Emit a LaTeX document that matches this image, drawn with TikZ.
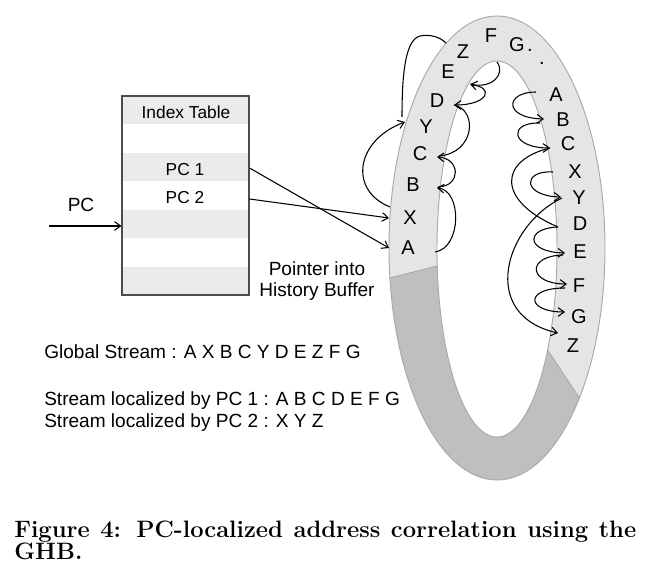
\documentclass[tikz,border=0pt]{standalone}
\usepackage{fontspec}
\newfontfamily\arial{Liberation Sans}
\usetikzlibrary{arrows.meta}
\definecolor{ringlight}{HTML}{E5E5E5}
\definecolor{ringdark}{HTML}{BFBFBF}
\definecolor{ringedge}{HTML}{A9A9A9}
\definecolor{rowgray}{HTML}{EBEBEB}
\begin{document}
\begin{tikzpicture}[x=0.75pt,y=-0.75pt,
  lbl/.style={font=\arial\fontsize{14.3}{16}\selectfont, inner sep=0pt},
  tbl/.style={font=\arial\fontsize{13}{15}\selectfont, inner sep=0pt},
  ltr/.style={font=\arial\fontsize{15}{17}\selectfont, inner sep=0pt, anchor=center},
  ptr/.style={-{Straight Barb[length=4.5pt,width=6.5pt]}, line width=0.8pt},
  link/.style={line width=0.8pt},
  captext/.style={font=\bfseries\fontsize{17.8}{18}\selectfont, inner sep=0pt, anchor=base west}]
\useasboundingbox (0,0) rectangle (650,567);

% ---------- index table ----------
\foreach \i in {0,2,4,6}
  \fill[rowgray] (122,{96+28.43*\i}) rectangle (249,{96+28.43*(\i+1)});
\node[draw=black!70, line width=0.8pt, minimum width=127*0.75pt, minimum height=199*0.75pt, inner sep=0pt] (tab) at (185.5,195.5) {};
\node[tbl, anchor=base] (ttl) at (186,118.3) {Index Table};
\node[tbl, anchor=base] (pc1) at (185,175.7) {PC 1};
\node[tbl, anchor=base] (pc2) at (185,203.3) {PC 2};
\node[lbl, anchor=base] (pclab) at (81,211.7) {PC};
\coordinate (pcin) at (49,226);
\draw[ptr] (pcin) -- (pcin -| tab.west);

% ---------- ring ----------
\fill[ringlight] (497,248) ellipse [x radius=108, y radius=232];
\begin{scope}
  \clip (497,248) ellipse [x radius=108, y radius=232];
  \fill[ringdark] (370,283) -- (450,262.7) -- (531.7,326) -- (595,422) -- (650,600) -- (340,600) -- cycle;
\end{scope}
\fill[white] (497,249) ellipse [x radius=60, y radius=188];
\draw[ringedge, line width=0.7pt] (497,248) ellipse [x radius=108, y radius=232];
\draw[ringedge, line width=0.7pt] (497,249) ellipse [x radius=60, y radius=188];
\draw[ringedge, line width=0.7pt] (389.9,278) -- (437.2,266);
\draw[ringedge, line width=0.7pt] (547.6,350) -- (579.4,398);

% ---------- letters ----------
\node[ltr] (lA) at (408,248) {A};
\node[ltr] (lX) at (410,218) {X};
\node[ltr] (lB) at (413,185) {B};
\node[ltr] (lC) at (420,154) {C};
\node[ltr] (lY) at (426,127) {Y};
\node[ltr] (lD) at (437,101) {D};
\node[ltr] (lE) at (448,72) {E};
\node[ltr] (lZ) at (463,52) {Z};
\node[ltr] (lF) at (491,36) {F};
\node[ltr] (lG) at (517,45) {G};
\node[ltr] (d1) at (530,50) {.};
\node[ltr] (d2) at (542,63) {.};
\node[ltr] (rA) at (556,95) {A};
\node[ltr] (rB) at (563,120) {B};
\node[ltr] (rC) at (568,144) {C};
\node[ltr] (rX) at (575,172) {X};
\node[ltr] (rY) at (579,198) {Y};
\node[ltr] (rD) at (580,224) {D};
\node[ltr] (rE) at (580,252) {E};
\node[ltr] (rF) at (579,286) {F};
\node[ltr] (rG) at (579,317) {G};
\node[ltr] (rZ) at (573,346) {Z};

% ---------- connector end points ----------
\coordinate (aA) at (435,252);
\coordinate (aX) at (389,218);
\coordinate (aAin) at (389,248);
\coordinate (aXo) at (390,207);
\coordinate (aB) at (437,188);
\coordinate (aC) at (437,157);
\coordinate (aY) at (405,122);
\coordinate (aYo) at (402,117);
\coordinate (aD) at (454,105);
\coordinate (aE) at (470,84);
\coordinate (aF) at (497,62);
\coordinate (aZ) at (446,43);
\coordinate (bA) at (536,92);
\coordinate (bB) at (544,119);
\coordinate (bC) at (550,148);
\coordinate (bX) at (553,172);
\coordinate (bY) at (561,197);
\coordinate (bD) at (558,227);
\coordinate (bE) at (565,253);
\coordinate (bF) at (567,284);
\coordinate (bG) at (565,312);
\coordinate (bZ) at (558,333);

% ---------- pointers from table ----------
\draw[ptr] (tab.east |- 0,168) -- (aAin);
\draw[ptr] (tab.east |- 0,199) -- (aX);

% ---------- left/top links ----------
\draw[ptr] (aA) .. controls (462,248) and (462,190) .. (aB);
\draw[ptr] (438,187) .. controls (462,186) and (460,158) .. (aC);
\draw[link] (439,156) .. controls (475,153) and (478,110) .. (aD);
\draw[ptr] (aF) .. controls (506,74) and (492,89) .. (aE);
\draw[ptr] (471,85) .. controls (494,86) and (490,105) .. (aD);
\draw[ptr] (aXo) .. controls (348,190) and (356,140) .. (aY);
\draw[link] (aYo) .. controls (402,75) and (405,40) .. (420,36) .. controls (430,34) and (440,37) .. (aZ);

% ---------- right links ----------
\draw[ptr] (bA) .. controls (505,92) and (503,118) .. (bB);
\draw[ptr] (540,123) .. controls (508,122) and (510,148) .. (bC);
\draw[link] (bC) .. controls (500,160) and (495,200) .. (bD);
\draw[ptr] (bX) .. controls (522,170) and (522,196) .. (bY);
\draw[ptr] (562,198) .. controls (505,225) and (478,315) .. (bZ);
\draw[ptr] (bD) .. controls (525,228) and (525,252) .. (bE);
\draw[ptr] (563,255) .. controls (526,256) and (528,284) .. (bF);
\draw[ptr] (565,288) .. controls (524,288) and (526,312) .. (bG);

% ---------- texts ----------
\node[lbl, anchor=base] (ptr1) at (317,275) {Pointer into};
\node[lbl, anchor=base] (ptr2) at (317,296.7) {History Buffer};
\node[lbl, anchor=base west] (gs) at (44,358) {Global Stream : A X B C Y D E Z F G};
\node[lbl, anchor=base west] (s1) at (44,405) {Stream localized by PC 1 : A B C D E F G};
\node[lbl, anchor=base west] (s2) at (44,427) {Stream localized by PC 2 : X Y Z};

% ---------- caption ----------
\node[captext] (c1) at (14,537) {\makebox[466.5pt][s]{Figure 4: PC-localized address correlation using the}};
\node[captext] (c2) at (14,559) {GHB.};
\end{tikzpicture}
\end{document}
